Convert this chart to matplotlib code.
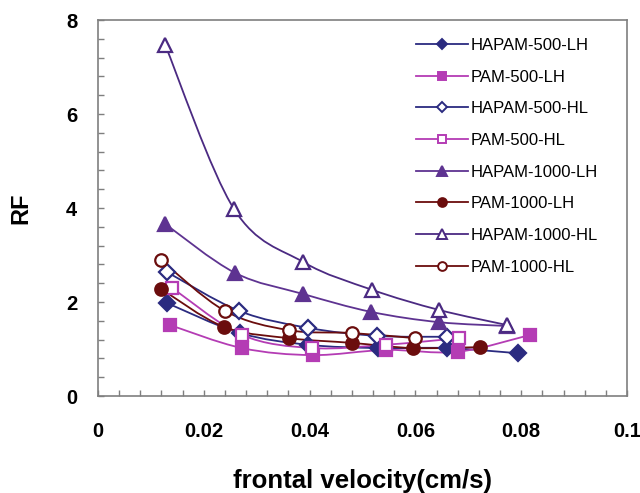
import matplotlib
matplotlib.use("Agg")
import matplotlib.pyplot as plt
from matplotlib.path import Path
from matplotlib.patches import PathPatch
from matplotlib.ticker import MultipleLocator
import numpy as np

plt.rcParams['font.family'] = 'Liberation Sans'

labels = ["HAPAM-500-LH", "PAM-500-LH", "HAPAM-500-HL", "PAM-500-HL",
          "HAPAM-1000-LH", "PAM-1000-LH", "HAPAM-1000-HL", "PAM-1000-HL"]

x_hapam500_lh = [0.0130, 0.0268, 0.0397, 0.0529, 0.0660, 0.0794]
y_hapam500_lh = [1.98, 1.34, 1.09, 1.02, 1.02, 0.91]
x_pam500_lh = [0.0136, 0.0272, 0.0406, 0.0544, 0.0680, 0.0817]
y_pam500_lh = [1.51, 1.02, 0.87, 0.98, 0.94, 1.30]
x_hapam500_hl = [0.0130, 0.0267, 0.0397, 0.0527, 0.0660]
y_hapam500_hl = [2.64, 1.81, 1.45, 1.28, 1.26]
x_pam500_hl = [0.0140, 0.0272, 0.0405, 0.0544, 0.0682]
y_pam500_hl = [2.30, 1.30, 1.02, 1.09, 1.23]
x_hapam1000_lh = [0.0127, 0.0259, 0.0388, 0.0516, 0.0645, 0.0773]
y_hapam1000_lh = [3.66, 2.62, 2.17, 1.79, 1.57, 1.49]
x_pam1000_lh = [0.0119, 0.0238, 0.0361, 0.0480, 0.0595, 0.0722]
y_pam1000_lh = [2.28, 1.47, 1.23, 1.13, 1.02, 1.04]
x_hapam1000_hl = [0.0127, 0.0257, 0.0388, 0.0518, 0.0645, 0.0773]
y_hapam1000_hl = [7.47, 3.98, 2.85, 2.26, 1.83, 1.51]
x_pam1000_hl = [0.0119, 0.0240, 0.0361, 0.0480, 0.0600]
y_pam1000_hl = [2.89, 1.81, 1.40, 1.34, 1.23]

series = [
    (x_hapam500_lh, y_hapam500_lh, '#2b2b80', 'D', True, 8),
    (x_pam500_lh, y_pam500_lh, '#b43cb4', 's', True, 9),
    (x_hapam500_hl, y_hapam500_hl, '#2b2b80', 'D', False, 8),
    (x_pam500_hl, y_pam500_hl, '#b43cb4', 's', False, 9),
    (x_hapam1000_lh, y_hapam1000_lh, '#5e3391', '^', True, 10),
    (x_pam1000_lh, y_pam1000_lh, '#6b0d0d', 'o', True, 9),
    (x_hapam1000_hl, y_hapam1000_hl, '#4b2a82', '^', False, 10),
    (x_pam1000_hl, y_pam1000_hl, '#6b0d0d', 'o', False, 9),
]


def smooth_path(ax, xs, ys, color):
    # bezier curve through the data points, drawn in display space
    pts = ax.transData.transform(np.column_stack([xs, ys]))
    verts = [pts[0]]
    codes = [Path.MOVETO]
    n = len(pts)
    for i in range(n - 1):
        p0 = pts[max(i - 1, 0)]
        p1 = pts[i]
        p2 = pts[i + 1]
        p3 = pts[min(i + 2, n - 1)]
        c1 = p1 + (p2 - p0) / 6.0
        c2 = p2 - (p3 - p1) / 6.0
        verts += [c1, c2, p2]
        codes += [Path.CURVE4] * 3
    path = Path(verts, codes)
    patch = PathPatch(path, facecolor='none', edgecolor=color, lw=1.3,
                      transform=None, zorder=2)
    ax.add_artist(patch)


fig = plt.figure(figsize=(6.4, 4.93), dpi=100)
ax = fig.add_axes([98 / 640, 1 - 396 / 493, 529 / 640, 376 / 493])
ax.set_xlim(0, 0.1)
ax.set_ylim(0, 8)

for (xs, ys, col, mk, filled, ms), lab in zip(series, labels):
    smooth_path(ax, xs, ys, col)
    ax.plot(xs, ys, linestyle='none', marker=mk, markersize=ms,
            markerfacecolor=col if filled else 'white', markeredgecolor=col,
            markeredgewidth=1.6, zorder=3)
    # legend proxy
    ax.plot([], [], color=col, lw=1.3, marker=mk, markersize=ms * 0.7,
            markerfacecolor=col if filled else 'white', markeredgecolor=col,
            markeredgewidth=1.4, label=lab)

ax.xaxis.set_major_locator(MultipleLocator(0.02))
ax.xaxis.set_minor_locator(MultipleLocator(0.004))
ax.yaxis.set_major_locator(MultipleLocator(2))
ax.yaxis.set_minor_locator(MultipleLocator(0.4))
ax.set_xticks([0, 0.02, 0.04, 0.06, 0.08, 0.1])
ax.set_xticklabels(["0", "0.02", "0.04", "0.06", "0.08", "0.1"])

ax.tick_params(which='both', direction='in', colors='#7f7f7f',
               labelcolor='black', labelsize=14.5, width=1)
ax.tick_params(which='major', length=4)
ax.tick_params(which='minor', length=4)
ax.tick_params(axis='x', which='major', pad=19)
ax.tick_params(axis='y', which='major', pad=15)
for lbl in ax.get_xticklabels() + ax.get_yticklabels():
    lbl.set_fontweight('bold')

for sp in ax.spines.values():
    sp.set_color('#7f7f7f')
    sp.set_linewidth(1.2)

ax.set_xlabel("frontal velocity(cm/s)", fontsize=18.5, fontweight='bold', labelpad=20)
ax.set_ylabel("RF", fontsize=17, fontweight='bold', labelpad=24)

ax.legend(loc='upper left', bbox_to_anchor=(416 / 640, 1 - 38 / 493),
          bbox_transform=fig.transFigure, frameon=False, fontsize=12,
          handlelength=3.1, handletextpad=0.15, labelspacing=1.0,
          borderpad=0, borderaxespad=0)

plt.savefig("out.png", dpi=100)
